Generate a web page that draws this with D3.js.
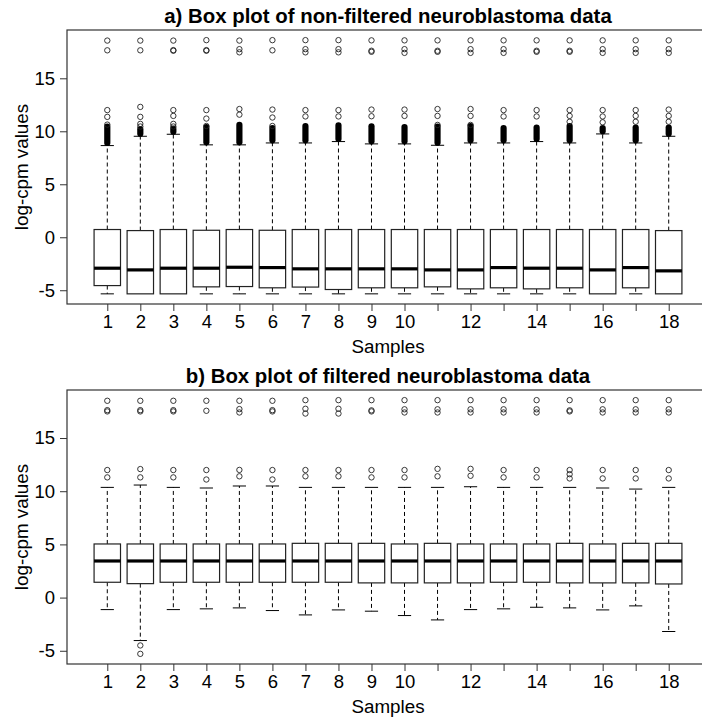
<!DOCTYPE html>
<html>
<head>
  <meta charset="utf-8">
  <title>Box plots of neuroblastoma data</title>
  <script src="https://cdnjs.cloudflare.com/ajax/libs/d3/7.8.5/d3.min.js"></script>
  <style>
    body { margin: 0; background: #fff; }
    text { font-family: "Liberation Sans", Arial, sans-serif; fill: #000; }
  </style>
</head>
<body>
  <div id="viz"></div>
  <script>
    // ---- data ----
    var samples = d3.range(1, 19);
    var xTickLabels = ["1","2","3","4","5","6","7","8","9","10","","12","","14","","16","","18"];
    var yTicks = [-5, 0, 5, 10, 15];

    // a) non-filtered
    var rawLow    = [-5.34,-5.34,-5.34,-5.34,-5.34,-5.34,-5.34,-5.34,-5.34,-5.34,-5.34,-5.34,-5.34,-5.34,-5.34,-5.34,-5.34,-5.34];
    var rawQ1     = [-4.56,-5.34,-5.34,-4.68,-4.65,-4.77,-4.70,-4.93,-4.77,-4.77,-4.68,-4.87,-4.77,-4.87,-4.77,-5.34,-4.77,-5.34];
    var rawMedian = [-2.92,-3.08,-2.92,-2.92,-2.83,-2.86,-2.98,-2.98,-2.98,-2.98,-3.08,-3.08,-2.86,-2.92,-2.92,-3.08,-2.86,-3.17];
    var rawQ3     = [0.73,0.63,0.73,0.66,0.73,0.66,0.73,0.73,0.73,0.73,0.73,0.73,0.73,0.73,0.73,0.73,0.73,0.63];
    var rawHigh   = [8.65,9.53,9.72,8.72,8.72,8.90,8.90,9.03,8.81,8.81,8.68,8.90,8.90,9.03,8.90,9.75,8.90,9.53];
    // top of the solid run of overlapping outliers just above the whisker
    var rawDenseTop = [10.45,10.20,10.25,10.40,10.60,10.30,10.50,10.55,10.47,10.40,10.45,10.50,10.30,10.35,10.50,10.30,10.35,10.35];
    var rawOutliers = [
      [10.63,11.36,12.0,17.64,18.56],
      [10.45,10.7,11.36,12.3,17.64,18.56],
      [10.45,10.7,11.45,12.0,17.6,17.66,18.56],
      [10.5,11.2,12.0,17.6,17.66,18.6],
      [11.57,12.1,17.45,17.75,18.56],
      [10.5,11.3,12.05,17.64,18.6],
      [11.4,12.0,17.45,17.75,18.6],
      [11.4,12.0,17.45,17.75,18.6],
      [11.42,12.05,17.5,17.6,18.58],
      [11.45,12.05,17.4,17.75,18.58],
      [10.6,11.45,12.1,17.5,17.6,18.58],
      [10.6,11.45,12.1,17.4,17.75,18.58],
      [11.4,12.0,17.4,17.75,18.58],
      [11.4,12.0,17.5,17.6,18.58],
      [10.9,11.45,12.0,17.5,17.6,18.58],
      [10.85,11.4,12.0,17.4,17.75,18.58],
      [10.9,11.45,12.0,17.4,17.75,18.58],
      [10.9,11.45,12.05,17.4,17.75,18.58]
    ];

    // b) filtered
    var filtLow    = [-1.13,-4.04,-1.13,-1.06,-0.97,-1.22,-1.63,-1.16,-1.28,-1.69,-2.10,-1.13,-1.06,-0.91,-0.97,-1.16,-0.78,-3.19];
    var filtQ1     = [1.44,1.31,1.44,1.44,1.44,1.44,1.44,1.44,1.38,1.38,1.38,1.38,1.44,1.44,1.38,1.38,1.38,1.28];
    var filtMedian = [3.44,3.44,3.44,3.44,3.44,3.44,3.44,3.44,3.44,3.44,3.44,3.44,3.44,3.44,3.44,3.44,3.44,3.44];
    var filtQ3     = [5.04,5.04,5.04,5.04,5.04,5.04,5.10,5.10,5.10,5.04,5.10,5.04,5.04,5.04,5.10,5.04,5.10,5.10];
    var filtHigh   = [10.36,10.58,10.36,10.30,10.49,10.49,10.36,10.36,10.36,10.36,10.36,10.42,10.36,10.36,10.36,10.30,10.20,10.36];
    var filtOutliers = [
      [11.3,11.99,17.5,17.62,18.5],
      [-5.29,-4.5,11.3,12.08,17.5,17.62,18.5],
      [11.3,11.99,17.5,17.62,18.5],
      [11.1,11.99,17.56,18.5],
      [11.4,12.0,17.4,17.72,18.5],
      [11.1,11.99,17.5,17.62,18.5],
      [11.4,11.99,17.3,17.75,18.56],
      [11.4,11.99,17.3,17.75,18.56],
      [11.3,11.99,17.5,17.6,18.56],
      [11.3,11.99,17.4,17.7,18.56],
      [11.4,12.1,17.4,17.7,18.56],
      [11.45,12.1,17.4,17.7,18.56],
      [11.3,11.99,17.4,17.7,18.56],
      [11.3,11.99,17.4,17.7,18.56],
      [11.2,11.6,11.99,17.5,17.6,18.56],
      [11.2,11.99,17.4,17.7,18.56],
      [11.2,11.99,17.4,17.7,18.56],
      [11.2,11.99,17.4,17.7,18.56]
    ];

    var width = 702, height = 720;
    var left = 67, right = 709;   // the frame runs past the right edge, as in the original

    var svg = d3.select("#viz").append("svg")
        .attr("width", width)
        .attr("height", height);

    // R style: 0.5..18.5 extended by 4%
    var xSpan = 18;
    var x = d3.scaleLinear()
        .domain([0.5 - 0.04 * xSpan, 18.5 + 0.04 * xSpan])
        .range([left, right]);
    var boxW = x(0.8) - x(0);

    function panel(opts) {
      var g = svg.append("g");
      var allVals = opts.low.concat(opts.high, d3.merge(opts.outliers));
      var lo = d3.min(allVals), hi = d3.max(allVals), r = hi - lo;
      var y = d3.scaleLinear()
          .domain([lo - 0.04 * r, hi + 0.04 * r])
          .range([opts.bottom, opts.top]);

      var stats = samples.map(function (s, i) {
        return { s: s, low: opts.low[i], q1: opts.q1[i], med: opts.median[i], q3: opts.q3[i],
                 high: opts.high[i], out: opts.outliers[i],
                 dense: opts.denseTop ? opts.denseTop[i] : null };
      });

      // title
      g.append("text")
          .attr("x", (left + right) / 2)
          .attr("y", opts.top - 7)
          .attr("text-anchor", "middle")
          .style("font-size", "20.4px")
          .style("font-weight", "bold")
          .text(opts.title);

      var b = g.selectAll("g.box").data(stats).enter().append("g").attr("class", "box");

      // whiskers (dashed)
      b.append("line")
          .attr("x1", function (d) { return x(d.s); })
          .attr("x2", function (d) { return x(d.s); })
          .attr("y1", function (d) { return y(d.q3); })
          .attr("y2", function (d) { return y(d.high); })
          .attr("stroke", "#000").attr("stroke-width", 1).attr("stroke-dasharray", "4,3");
      b.filter(function (d) { return d.low < d.q1; }).append("line")
          .attr("x1", function (d) { return x(d.s); })
          .attr("x2", function (d) { return x(d.s); })
          .attr("y1", function (d) { return y(d.q1); })
          .attr("y2", function (d) { return y(d.low); })
          .attr("stroke", "#000").attr("stroke-width", 1).attr("stroke-dasharray", "4,3");

      // staples
      ["high", "low"].forEach(function (k) {
        b.filter(function (d) { return k === "high" || d.low < d.q1; }).append("line")
            .attr("x1", function (d) { return x(d.s) - boxW / 4; })
            .attr("x2", function (d) { return x(d.s) + boxW / 4; })
            .attr("y1", function (d) { return y(d[k]); })
            .attr("y2", function (d) { return y(d[k]); })
            .attr("stroke", "#000").attr("stroke-width", 1);
      });

      // boxes
      b.append("rect")
          .attr("x", function (d) { return x(d.s) - boxW / 2; })
          .attr("width", boxW)
          .attr("y", function (d) { return y(d.q3); })
          .attr("height", function (d) { return y(d.q1) - y(d.q3); })
          .attr("fill", "#fff").attr("stroke", "#222").attr("stroke-width", 1.2);

      // medians
      b.append("line")
          .attr("x1", function (d) { return x(d.s) - boxW / 2; })
          .attr("x2", function (d) { return x(d.s) + boxW / 2; })
          .attr("y1", function (d) { return y(d.med); })
          .attr("y2", function (d) { return y(d.med); })
          .attr("stroke", "#000").attr("stroke-width", 3.2);

      // dense outlier runs
      b.filter(function (d) { return d.dense !== null; }).append("line")
          .attr("x1", function (d) { return x(d.s); })
          .attr("x2", function (d) { return x(d.s); })
          .attr("y1", function (d) { return y(d.high) - 2.6; })
          .attr("y2", function (d) { return y(d.dense); })
          .attr("stroke", "#000").attr("stroke-width", 6.2).attr("stroke-linecap", "round");

      // single outliers
      b.selectAll("circle").data(function (d) {
        return d.out.map(function (v) { return { s: d.s, v: v }; });
      }).enter().append("circle")
          .attr("cx", function (d) { return x(d.s); })
          .attr("cy", function (d) { return y(d.v); })
          .attr("r", 2.7)
          .attr("fill", "none").attr("stroke", "#222").attr("stroke-width", 0.9);

      // frame
      g.append("rect")
          .attr("x", left).attr("y", opts.top)
          .attr("width", right - left).attr("height", opts.bottom - opts.top)
          .attr("fill", "none").attr("stroke", "#333").attr("stroke-width", 1.2);

      // x axis
      var xa = g.append("g").attr("transform", "translate(0," + opts.bottom + ")")
          .call(d3.axisBottom(x).tickValues(samples).tickSize(7).tickPadding(4)
                .tickFormat(function (d, i) { return xTickLabels[i]; }));
      xa.select(".domain").remove();
      xa.selectAll("line").attr("stroke", "#333");
      xa.selectAll("text").style("font-size", "18.5px").attr("fill", "#000")
          .style("font-family", "'Liberation Sans', Arial, sans-serif");

      // y axis
      var ya = g.append("g").attr("transform", "translate(" + left + ",0)")
          .call(d3.axisLeft(y).tickValues(yTicks).tickSize(7).tickPadding(5)
                .tickFormat(function (d) { return d < 0 ? "-" + Math.abs(d) : d; }));
      ya.select(".domain").remove();
      ya.selectAll("line").attr("stroke", "#333");
      ya.selectAll("text").style("font-size", "18.5px").attr("fill", "#000")
          .style("font-family", "'Liberation Sans', Arial, sans-serif");

      // axis titles
      g.append("text")
          .attr("x", (left + right) / 2)
          .attr("y", opts.bottom + 49)
          .attr("text-anchor", "middle")
          .style("font-size", "18.8px")
          .text("Samples");
      g.append("text")
          .attr("transform", "translate(28," + (opts.top + opts.bottom) / 2 + ") rotate(-90)")
          .attr("text-anchor", "middle")
          .style("font-size", "18.8px")
          .text("log-cpm values");
    }

    panel({
      title: "a) Box plot of non-filtered neuroblastoma data",
      top: 30, bottom: 304,
      low: rawLow, q1: rawQ1, median: rawMedian, q3: rawQ3, high: rawHigh,
      outliers: rawOutliers, denseTop: rawDenseTop
    });

    panel({
      title: "b) Box plot of filtered neuroblastoma data",
      top: 390, bottom: 664,
      low: filtLow, q1: filtQ1, median: filtMedian, q3: filtQ3, high: filtHigh,
      outliers: filtOutliers, denseTop: null
    });
  </script>
</body>
</html>
